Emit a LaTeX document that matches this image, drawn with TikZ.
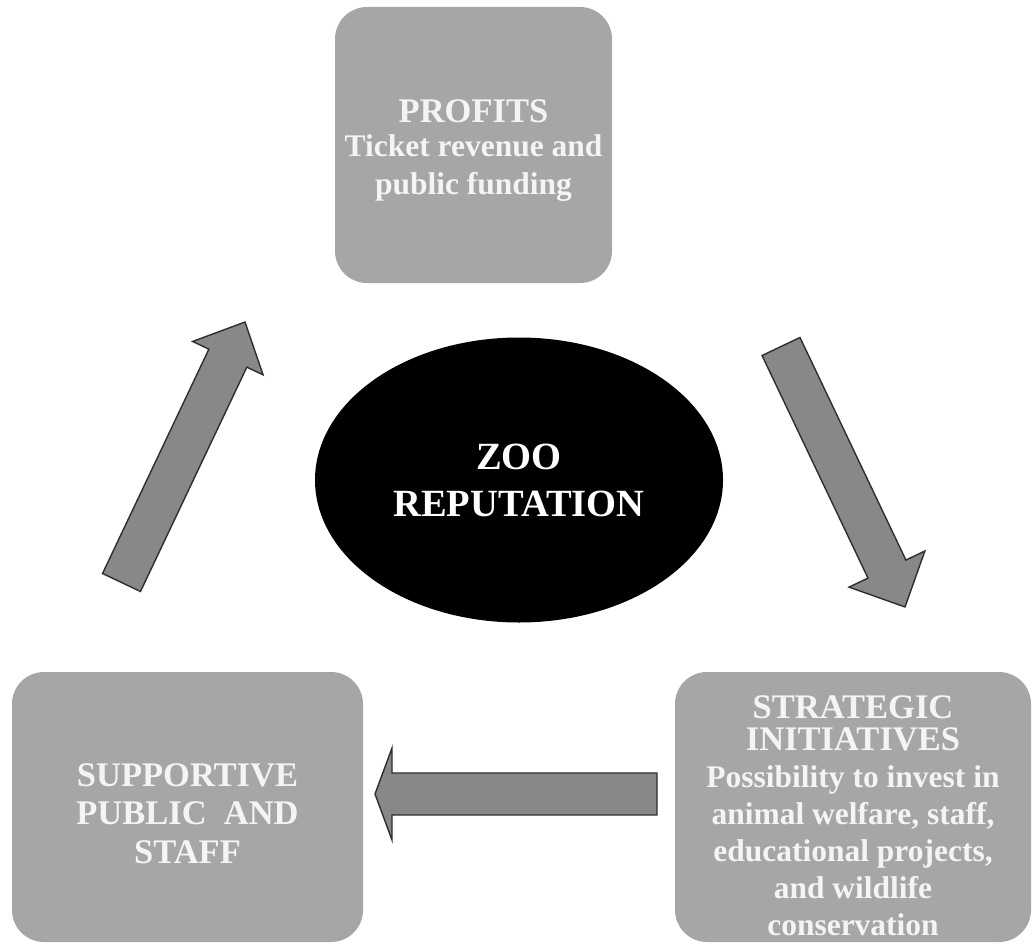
\documentclass[tikz,border=0pt]{standalone}
\usepackage{fontspec}
\setmainfont{Liberation Serif}
\usepackage{xcolor}
\usepackage{tikz}
\usetikzlibrary{calc,shapes.geometric}

\definecolor{boxgray}{HTML}{A6A6A6}
\definecolor{arrowgray}{HTML}{888888}
\definecolor{arrowline}{HTML}{2E2E2E}
\definecolor{lighttext}{HTML}{F4F4F4}

\newcommand{\headfont}{\fontsize{34.5}{37}\selectfont}
\newcommand{\bodyfont}{\fontsize{31.5}{37}\selectfont}

% block arrow: tail, tip, half shaft, half head, head length
\newcommand{\blockarrow}[5]{%
	\filldraw[arrowbody] let \p1=($(#2)-(#1)$), \n1={atan2(\y1,\x1)}, \n2={veclen(\x1,\y1)} in
		[shift={(#1)}, rotate=\n1]
		(0,-#3) -- ({\n2-#5},-#3) -- ({\n2-#5},-#4) -- (\n2,0)
		-- ({\n2-#5},#4) -- ({\n2-#5},#3) -- (0,#3) -- cycle;
}

\tikzset{
	panel/.style={fill=boxgray, rounded corners=32pt, inner sep=0pt, align=center,
		text=lighttext, font=\bfseries\bodyfont},
	arrowbody/.style={fill=arrowgray, draw=arrowline, line width=1.4pt, line join=miter}
}

\begin{document}
\begin{tikzpicture}[x=1pt, y=-1pt]
	\useasboundingbox (0,0) rectangle (1032,944);

	\node[panel, minimum width=277pt, minimum height=276pt] (profits) at (473.5,145)
	{
		\rule{0pt}{33pt}{\headfont PROFITS}\\[-3pt]
		Ticket revenue and\\[1pt]
		public funding
	};

	\node[panel, minimum width=351pt, minimum height=270pt] (support) at (187.5,807)
	{
		\rule{0pt}{36pt}{\headfont SUPPORTIVE}\\[1.5pt]
		{\headfont PUBLIC\ \ AND}\\[1.5pt]
		{\headfont STAFF}
	};

	\node[panel, minimum width=356pt, minimum height=270pt] (strategic) at (853,807)
	{
		\rule{0pt}{40pt}{\headfont STRATEGIC}\\[-5pt]
		{\headfont INITIATIVES}\\[0pt]
		Possibility to invest in\\
		animal welfare, staff,\\
		educational projects,\\
		and wildlife\\
		conservation
	};

	\node[ellipse, fill=black, minimum width=408pt, minimum height=285pt, inner sep=0pt,
		align=center, text=white, font=\bfseries\fontsize{38.5}{47}\selectfont] (reputation) at (519,480)
	{
		ZOO\\
		REPUTATION
	};

	\coordinate (upTail) at (121.5,582.5);
	\coordinate (upTip) at (245,322);
	\coordinate (downTail) at (781,346.5);
	\coordinate (downTip) at (905,607);
	\coordinate (backTail) at (657,794);
	\coordinate (backTip) at (375,794);

	\blockarrow{upTail}{upTip}{21}{39}{40}
	\blockarrow{downTail}{downTip}{21}{42}{42}
	\blockarrow{backTail}{backTip}{21}{46}{17}
\end{tikzpicture}
\end{document}
